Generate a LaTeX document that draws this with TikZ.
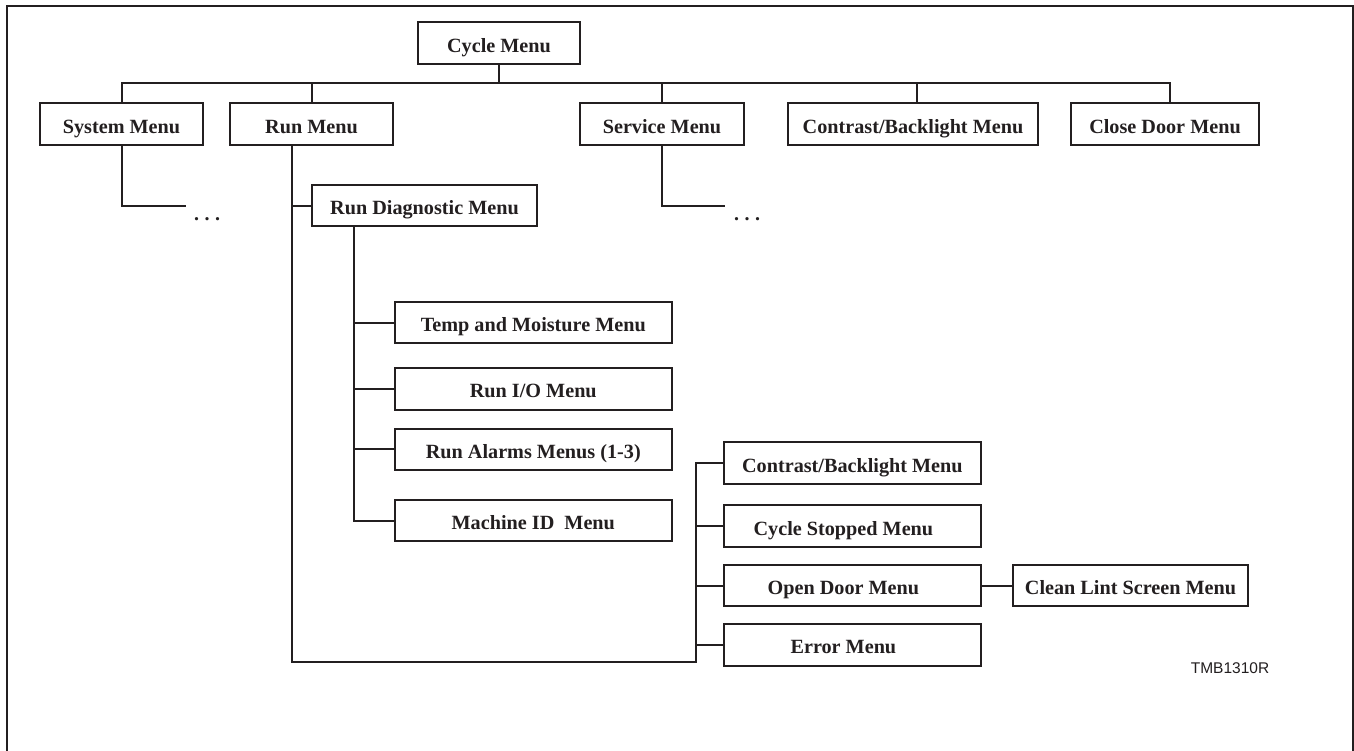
\documentclass[tikz,border=0pt]{standalone}
\usepackage{fontspec}
\setmainfont{Liberation Serif}
\newfontfamily\labelfont{Liberation Sans}
\definecolor{ink}{HTML}{231F20}
\tikzset{
  menubox/.style={draw=ink, line width=2pt, minimum height=41.5pt, inner sep=0pt,
    font=\bfseries\fontsize{20.2}{24}\selectfont, text=ink, text height=18pt, text depth=0pt},
  wire/.style={draw=ink, line width=2pt},
  dots/.style={font=\bfseries\fontsize{20}{24}\selectfont, text=ink, inner sep=0pt, anchor=base},
}
\begin{document}
\begin{tikzpicture}[x=1pt, y=-1pt]
\useasboundingbox (0,0) rectangle (1354,750);
\fill[white] (0,0) rectangle (1354,750);
% frame (open at bottom)
\draw[ink, line width=2pt] (7,752) -- (7,5.8) -- (1352.5,5.8) -- (1352.5,752);

% top level
\node[menubox, minimum width=162pt] (cycle) at (499,43) {Cycle Menu};
\node[menubox, minimum width=163pt] (sys) at (121.5,124) {System Menu};
\node[menubox, minimum width=163pt] (run) at (311.5,124) {Run Menu};
\node[menubox, minimum width=164pt] (svc) at (662,124) {Service Menu};
\node[menubox, minimum width=250pt] (cbA) at (913,124) {Contrast/Backlight Menu};
\node[menubox, minimum width=188pt] (cd) at (1165,124) {Close Door Menu};

% run diagnostic branch
\node[menubox, minimum width=225pt] (rd) at (424.5,205.5) {Run Diagnostic Menu};
\node[menubox, minimum width=277pt] (tm) at (533.3,322.7) {Temp and Moisture Menu};
\node[menubox, minimum width=277pt] (rio) at (533.3,388.8) {Run I/O Menu};
\node[menubox, minimum width=277pt] (ra) at (533.3,449.3) {Run Alarms Menus (1-3)};
\node[menubox, minimum width=277pt] (mid) at (533.3,520.5) {Machine ID~ Menu};

% lower right column
\node[menubox, minimum width=257pt] (cbB) at (852.4,463) {Contrast/Backlight Menu};
\node[menubox, minimum width=257pt] (cs) at (852.4,526) {\hspace*{-18pt}Cycle Stopped Menu};
\node[menubox, minimum width=257pt] (od) at (852.4,585.5) {\hspace*{-18pt}Open Door Menu};
\node[menubox, minimum width=235pt] (cl) at (1130.5,585.5) {Clean Lint Screen Menu};
\node[menubox, minimum width=257pt] (err) at (852.4,644.8) {\hspace*{-18pt}Error Menu};

% label
\node[font=\labelfont\fontsize{15.5}{18}\selectfont, text=ink, inner sep=0pt] (tmb) at (1230,668) {TMB1310R};

% top bus
\coordinate (bus) at (499,83);
\draw[wire] (cycle.south) -- (bus);
\draw[wire] (bus) -| (sys.north);
\draw[wire] (bus) -| (run.north);
\draw[wire] (bus) -| (svc.north);
\draw[wire] (bus) -| ([xshift=4pt]cbA.north);
\draw[wire] (bus) -| ([xshift=5pt]cd.north);

% system / service continuation
\coordinate (sysend) at (185.5,205.5);
\coordinate (svcend) at (725,205.5);
\draw[wire] (sys.south) |- (sysend);
\draw[wire] (svc.south) |- (svcend);
\node[dots] (sysdots) at (207,220.5) {.\hspace{5.5pt}.\hspace{5.5pt}.};
\node[dots] (svcdots) at (747,220.5) {.\hspace{5.5pt}.\hspace{5.5pt}.};

% run stem
\coordinate (rstem) at ([xshift=-19.5pt]run.south);
\coordinate (rbus) at (696,662);
\draw[wire] (rstem) |- (rbus) -- (rbus |- cbB.west) -- (cbB.west);
\draw[wire] (rd.west) -- (rd.west -| rstem);
\draw[wire] (rbus |- cs.west) -- (cs.west);
\draw[wire] (rbus |- od.west) -- (od.west);
\draw[wire] (rbus |- err.west) -- (err.west);
\draw[wire] (od.east) -- (cl.west);

% diagnostic stem
\coordinate (dstem) at ([xshift=43pt]rd.south west);
\draw[wire] (dstem) |- (mid.west);
\draw[wire] (dstem |- tm.west) -- (tm.west);
\draw[wire] (dstem |- rio.west) -- (rio.west);
\draw[wire] (dstem |- ra.west) -- (ra.west);
\end{tikzpicture}
\end{document}
